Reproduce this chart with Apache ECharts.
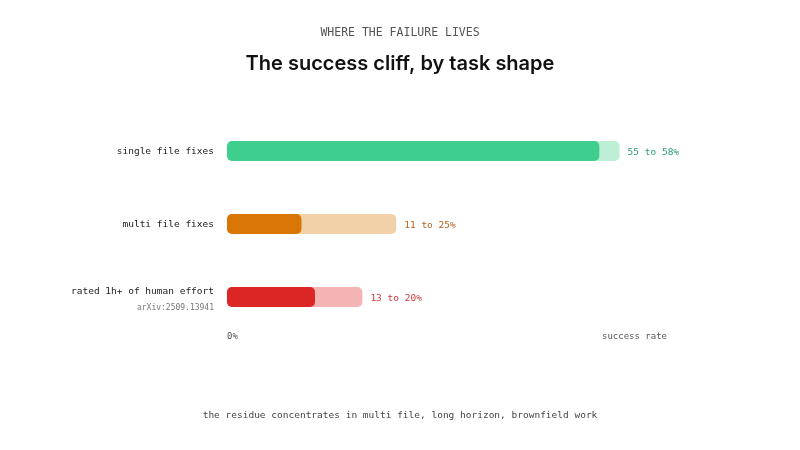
<!DOCTYPE html>
<html>
<head>
<meta charset="utf-8">
<script src="https://cdn.jsdelivr.net/npm/echarts@6/dist/echarts.min.js"></script>
<style>
  html, body { margin: 0; padding: 0; background: #fff; }
  #main { width: 800px; height: 450px; }
</style>
</head>
<body>
<div id="main"></div>
<script>
var categories = ['single file fixes', 'multi file fixes', 'rated 1h+ of human effort'];
var lowValues = [55, 11, 13];
var highValues = [58, 25, 20];
var rangeLabels = ['55 to 58%', '11 to 25%', '13 to 20%'];
var sourceNote = 'arXiv:2509.13941';

var darkColors = ['#3ecf8e', '#d97706', '#dc2626'];
var lightColors = ['#bdeed6', '#f2d1a9', '#f4b4b4'];
var textColors = ['#2a9d6f', '#b3621b', '#d03a3a'];

var mono = '"DejaVu Sans Mono", monospace';
var chart = echarts.init(document.getElementById('main'));

var option = {
    backgroundColor: '#ffffff',
    animation: false,
    title: [{
        text: 'WHERE THE FAILURE LIVES',
        left: 'center',
        top: 22,
        textStyle: { fontFamily: mono, fontSize: 11.5, fontWeight: 'normal', color: '#555' }
    }, {
        text: 'The success cliff, by task shape',
        left: 'center',
        top: 49,
        textStyle: { fontFamily: 'Inter', fontSize: 20, fontWeight: 600, color: '#111' }
    }, {
        text: 'the residue concentrates in multi file, long horizon, brownfield work',
        left: 'center',
        top: 406,
        textStyle: { fontFamily: mono, fontSize: 9.5, fontWeight: 'normal', color: '#444' }
    }],
    grid: { left: 227, width: 440, top: 114.5, height: 219 },
    xAxis: {
        type: 'value',
        min: 0,
        max: 65,
        splitLine: { show: false },
        axisLine: { show: false },
        axisTick: { show: false },
        axisLabel: {
            customValues: [0, 65],
            margin: -1,
            alignMinLabel: 'left',
            alignMaxLabel: 'right',
            fontFamily: mono,
            fontSize: 9,
            color: '#555',
            formatter: function(v) { return v === 0 ? '0%' : 'success rate'; }
        }
    },
    yAxis: {
        type: 'category',
        data: categories,
        inverse: true,
        axisLine: { show: false },
        axisTick: { show: false },
        axisLabel: {
            margin: 13,
            fontFamily: mono,
            fontSize: 9.5,
            color: '#1a1a1a',
            lineHeight: 19,
            padding: [2, 0, 0, 0],
            formatter: function(v, i) {
                return i === 2 ? v + '\n{s|' + sourceNote + '}' : v;
            },
            rich: {
                s: { fontFamily: mono, fontSize: 8, color: '#777', lineHeight: 13 }
            }
        }
    },
    series: [{
        type: 'bar',
        barWidth: 20,
        barGap: '-100%',
        data: highValues.map(function(v, i) {
            return {
                value: v,
                itemStyle: { color: lightColors[i], borderRadius: 5 },
                label: { color: textColors[i] }
            };
        }),
        label: {
            show: true,
            position: 'right',
            distance: 8,
            offset: [0, 2],
            fontFamily: mono,
            fontSize: 9.5,
            formatter: function(p) { return rangeLabels[p.dataIndex]; }
        }
    }, {
        type: 'bar',
        barWidth: 20,
        barGap: '-100%',
        data: lowValues.map(function(v, i) {
            return { value: v, itemStyle: { color: darkColors[i], borderRadius: 5 } };
        })
    }]
};

chart.setOption(option);
</script>
</body>
</html>
